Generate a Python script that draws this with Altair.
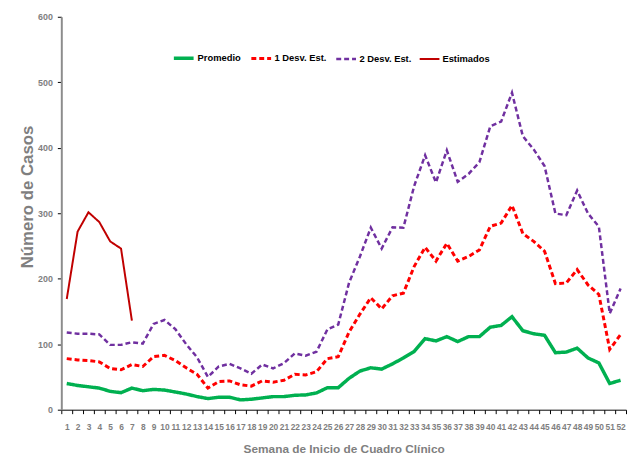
import altair as alt
import pandas as pd

weeks = list(range(1, 53))
promedio = [40, 37, 35, 33, 28, 26, 33, 29, 31, 30, 27, 24, 20, 17, 19, 19, 15, 16, 18, 20,
            20, 22, 22.6, 25.6, 33.6, 33.6, 48, 59, 64, 62, 70, 79, 89, 108.5, 105, 111.6, 104,
            111.6, 111.6, 126, 128.7, 142, 120.6, 116, 113.6, 87, 88, 94, 79, 71.4, 40, 45]
desv1 = [78, 76, 75, 73, 63, 61, 69, 66, 81, 83, 75, 64, 54, 33, 43, 44, 38, 36, 44, 42,
         45, 54, 53, 58, 78, 81, 118.6, 146, 171, 154, 174, 178, 219, 248, 227, 254, 227,
         234, 244, 280, 285, 312, 269, 257, 242, 192.5, 193.5, 214, 190.5, 176, 92, 114.6]
desv2 = [118, 116, 116, 115, 99, 99, 103, 101, 131, 137, 123, 100, 80, 50, 66, 70, 63, 55, 69, 63,
         71, 86, 82.5, 88.5, 122.6, 130, 194, 234, 278, 246, 278.5, 278, 342, 388.5, 347, 396, 348,
         360, 378, 432.7, 440, 484, 417.6, 397.5, 372, 299.6, 297, 334.7, 299.6, 279.5, 147, 185]
estimados_weeks = [1, 2, 3, 4, 5, 6, 7]
estimados = [169, 272, 301.5, 286.5, 257, 246, 136]

series_names = ["Promedio", "1 Desv. Est.", "2 Desv. Est.", "Estimados"]
series_colors = ["#00B050", "#FF0000", "#7030A0", "#C00000"]

rows = []
for name, vals in [("Promedio", promedio), ("1 Desv. Est.", desv1), ("2 Desv. Est.", desv2)]:
    for w, v in zip(weeks, vals):
        rows.append({"semana": w, "casos": v, "serie": name})
for w, v in zip(estimados_weeks, estimados):
    rows.append({"semana": w, "casos": v, "serie": "Estimados"})
df = pd.DataFrame(rows)

font = "Liberation Sans"
gray = "#7F7F7F"

chart = alt.Chart(df).mark_line().encode(
    x=alt.X("semana:O", title="Semana de Inicio de Cuadro Clínico",
            scale=alt.Scale(paddingInner=0, paddingOuter=0),
            axis=alt.Axis(labelAngle=0, tickBand="extent", domainColor="black", tickColor="black",
                          tickSize=4, labelFont=font, labelFontSize=8.5, labelFontWeight="bold",
                          labelColor=gray, labelPadding=9, titleFont=font, titleFontSize=12,
                          titleFontWeight="bold", titleColor=gray, titlePadding=13, grid=False)),
    y=alt.Y("casos:Q", title="Número de Casos",
            scale=alt.Scale(domain=[0, 600], nice=False),
            axis=alt.Axis(values=[0, 100, 200, 300, 400, 500, 600], domainColor="#8C8C8C",
                          domainWidth=2, tickColor="black", tickSize=4, labelFont=font,
                          labelFontSize=9, labelFontWeight="bold", labelColor=gray, labelPadding=5,
                          titleFont=font, titleFontSize=17, titleFontWeight="bold",
                          titleColor=gray, titlePadding=1, titleY=182, grid=False)),
    color=alt.Color("serie:N", scale=alt.Scale(domain=series_names, range=series_colors),
                    legend=alt.Legend(title=None, orient="none", direction="horizontal",
                                      legendX=112, legendY=30, symbolType="stroke", symbolSize=400,
                                      labelFont=font, labelFontSize=9.5, labelFontWeight="bold",
                                      labelColor="black", labelOffset=2, columnPadding=4,
                                      padding=0)),
    strokeDash=alt.StrokeDash("serie:N", scale=alt.Scale(domain=series_names,
                              range=[[1, 0], [5, 3], [5, 3], [1, 0]]), legend=None),
    strokeWidth=alt.StrokeWidth("serie:N", scale=alt.Scale(domain=series_names,
                                range=[3.5, 2, 2, 2.5]), legend=None),
    detail="serie:N",
).properties(
    width=572, height=398,
    padding={"left": 54, "top": 6, "right": 1, "bottom": 44},
    autosize="none",
).configure_view(stroke=None).configure_legend(symbolStrokeWidth=3)

chart.save("out.html", embed_options={"renderer": "svg", "actions": False})
